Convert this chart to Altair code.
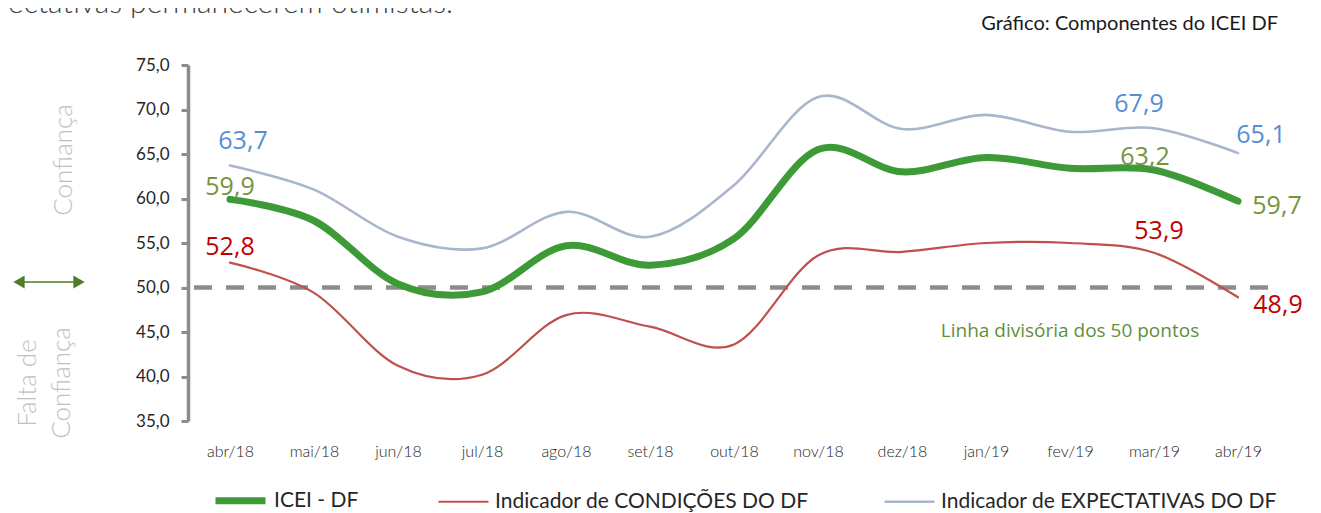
import altair as alt
import pandas as pd

# ---------------- data ----------------
months = ["abr/18", "mai/18", "jun/18", "jul/18", "ago/18", "set/18", "out/18",
          "nov/18", "dez/18", "jan/19", "fev/19", "mar/19", "abr/19"]
icei = [59.9, 57.5, 50.4, 49.5, 54.7, 52.5, 55.5, 65.5, 63.0, 64.6, 63.4, 63.2, 59.7]
condicoes = [52.8, 49.4, 41.2, 40.2, 46.9, 45.6, 43.6, 53.6, 54.0, 55.0, 55.0, 53.9, 48.9]
expectativas = [63.7, 61.0, 55.7, 54.4, 58.5, 55.7, 61.5, 71.4, 67.8, 69.4, 67.5, 67.9, 65.1]
series_names = ["ICEI  - DF", "Indicador de CONDIÇÕES DO DF", "Indicador de EXPECTATIVAS  DO DF"]
y_ticks = [35, 40, 45, 50, 55, 60, 65, 70, 75]
divisor = 50

# ---------------- styles ----------------
line_colors = ["#3d9a37", "#c0504d", "#aab6cd"]
line_widths = [7, 2.2, 2.6]
label_colors = ["#77933c", "#c00000", "#558ed5"]
FONT = "Lato"
NUM_FONT = "Open Sans"

series_values = [icei, condicoes, expectativas]
rows = []
for s, vals in zip(series_names, series_values):
    for m, v in zip(months, vals):
        rows.append({"month": m, "value": v, "series": s})
df = pd.DataFrame(rows)

x_scale = alt.Scale(type="point", padding=0.5, domain=months)
x_enc = alt.X("month:N", sort=months, scale=x_scale,
              axis=alt.Axis(title=None, labelAngle=0, domain=False, ticks=False,
                            labelPadding=22, labelFont=FONT, labelFontSize=16,
                            labelFontWeight=300, labelColor="#262626"))
y_scale = alt.Scale(domain=[35, 75], nice=False, zero=False)
y_enc = alt.Y("value:Q", scale=y_scale,
              axis=alt.Axis(title=None, values=y_ticks, grid=False,
                            labelExpr="replace(format(datum.value, '.1f'), '.', ',')",
                            domainColor="#8c8c8c", domainWidth=3.5,
                            tickColor="#8c8c8c", tickWidth=3, tickSize=7,
                            labelPadding=12, labelFont=FONT, labelFontSize=17,
                            labelColor="#262626"))

base = alt.Chart(df)

dashed = alt.Chart(pd.DataFrame({"value": [divisor]})).mark_rule(
    color="#8c8c8c", strokeWidth=4.5, strokeDash=[18, 14]
).encode(y=alt.Y("value:Q", scale=y_scale), x=alt.value(6), x2=alt.value(1089))

lines = base.mark_line(interpolate="cardinal", strokeCap="round").encode(
    x=x_enc,
    y=y_enc,
    color=alt.Color("series:N",
                    scale=alt.Scale(domain=series_names, range=line_colors),
                    legend=alt.Legend(title=None, orient="none", legendX=24, legendY=407,
                                      direction="horizontal", symbolType="stroke",
                                      symbolSize=2500, symbolStrokeWidth=3,
                                      labelFont=FONT, labelFontSize=21,
                                      labelColor="#262626", labelLimit=600,
                                      columnPadding=70, labelOffset=5, padding=0)),
    strokeWidth=alt.StrokeWidth("series:N",
                                scale=alt.Scale(type="ordinal", domain=series_names,
                                                range=line_widths),
                                legend=None),
    order=alt.Order("series:N", sort="descending"),
)

# value labels: (series index, month, dx, dy)
label_specs = [
    (2, "abr/18", 13, -25), (0, "abr/18", 0, -12), (1, "abr/18", 0, -16),
    (2, "abr/19", 23, -18), (0, "abr/19", 39, 5), (1, "abr/19", 40, 8),
    (2, "mar/19", -15, -24), (0, "mar/19", -9, -13), (1, "mar/19", 5, -22),
]
label_layers = []
for si, m, dx, dy in label_specs:
    v = series_values[si][months.index(m)]
    d = pd.DataFrame({"month": [m], "value": [v],
                      "label": [f"{v:.1f}".replace(".", ",")]})
    label_layers.append(
        alt.Chart(d).mark_text(font=NUM_FONT, fontSize=25, color=label_colors[si],
                               dx=dx, dy=dy, align="center", baseline="middle")
        .encode(x=alt.X("month:N", sort=months, scale=x_scale),
                y=alt.Y("value:Q", scale=y_scale), text="label:N")
    )

div_text = alt.Chart(pd.DataFrame({"month": ["fev/19"], "value": [divisor],
                                   "t": ["Linha divisória dos 50 pontos"]})).mark_text(
    font=NUM_FONT, fontSize=19, color="#5f8f3c", dy=43, align="center", baseline="middle"
).encode(x=alt.X("month:N", sort=months, scale=x_scale),
         y=alt.Y("value:Q", scale=y_scale), text="t:N")

one = pd.DataFrame({"k": [0]})
deco = []
deco.append(alt.Chart(one).mark_text(font=FONT, fontSize=20, color="#1a1a1a",
                                     align="right", baseline="alphabetic",
                                     text="Gráfico: Componentes do ICEI DF")
            .encode(x=alt.value(1090), y=alt.value(-35)))
deco.append(alt.Chart(one).mark_text(font=FONT, fontSize=30, fontWeight=300, color="#404040",
                                     align="right", baseline="alphabetic",
                                     text="ectativas permanecerem otimistas.")
            .encode(x=alt.value(265), y=alt.value(-52)))
for txt, px, py in [("Confiança", -124, 95), ("Falta de", -160, 318), ("Confiança", -126, 318)]:
    deco.append(alt.Chart(one).mark_text(font=FONT, fontSize=26, fontWeight=300,
                                         color="#c0c0c0", angle=270, align="center",
                                         baseline="middle", text=txt)
                .encode(x=alt.value(px), y=alt.value(py)))
deco.append(alt.Chart(one).mark_rule(color="#4e7d2a", strokeWidth=1.5)
            .encode(x=alt.value(-165), x2=alt.value(-112), y=alt.value(217)))
deco.append(alt.Chart(one).mark_point(shape="triangle-left", filled=True, size=170,
                                      color="#4e7d2a", opacity=1)
            .encode(x=alt.value(-169), y=alt.value(217)))
deco.append(alt.Chart(one).mark_point(shape="triangle-right", filled=True, size=170,
                                      color="#4e7d2a", opacity=1)
            .encode(x=alt.value(-109), y=alt.value(217)))

chart = alt.layer(dashed, lines, *label_layers, div_text, *deco).properties(
    width=1092, height=356,
    autosize=alt.AutoSizeParams(type="none"),
    padding={"left": 180, "top": 57, "right": 33, "bottom": 92},
    background="white",
).configure_view(stroke=None)

chart.save("out.html", embed_options={"renderer": "svg", "actions": False})
